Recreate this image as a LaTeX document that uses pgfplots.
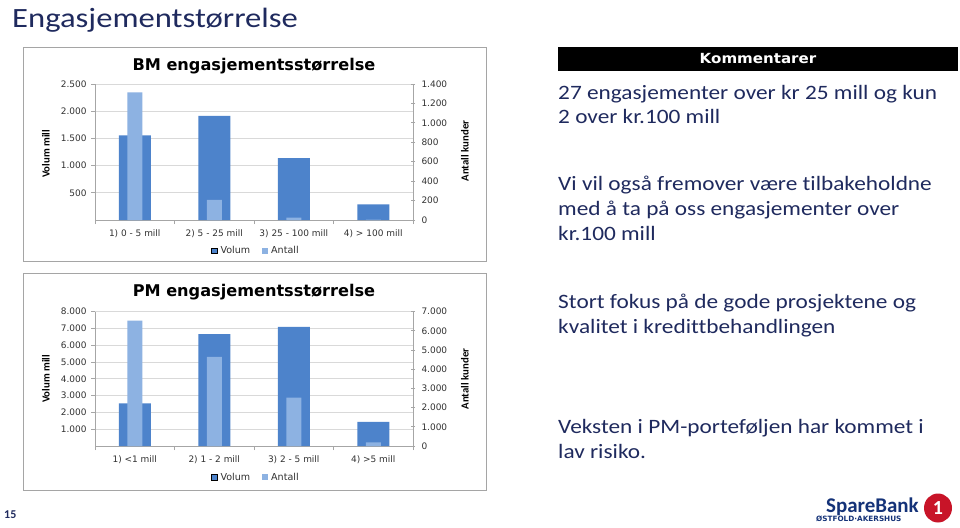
\documentclass[border=0pt]{standalone}
\usepackage{pgfplots}
\pgfplotsset{compat=1.18}
\usepackage{fontspec}
\setmainfont[Ligatures=NoCommon]{Carlito}
\newfontfamily\dejavu{DejaVu Sans}
\definecolor{navy}{RGB}{31,42,94}
\definecolor{volum}{RGB}{77,131,203}
\definecolor{antall}{RGB}{141,178,226}
\definecolor{gridc}{RGB}{217,217,217}
\definecolor{axisc}{RGB}{166,166,166}
\definecolor{tickc}{RGB}{50,50,50}
\definecolor{boxc}{RGB}{165,165,165}
\definecolor{logored}{RGB}{200,20,40}
\definecolor{logonavy}{RGB}{20,50,120}
\pgfplotsset{
  chartbase/.style={
    scale only axis, width=318bp, anchor=south west,
    xmin=-0.5, xmax=3.5, ymin=0,
    ticklabel style={font=\dejavu\fontsize{9}{10}\selectfont, text=tickc},
    /pgf/number format/1000 sep={.},
    /pgf/number format/assume math mode=true,
    axis line style={axisc, line width=0.8bp},
    tick style={axisc, line width=0.8bp},
    ybar, bar shift=0pt,
  },
  leftaxis/.style={
    chartbase,
    axis x line*=bottom, axis y line*=left,
    xtick={0,1,2,3},
    major x tick style={draw=none},
    minor xtick={-0.5,0.5,1.5,2.5,3.5},
    minor tick length=4bp,
    major tick length=4bp,
    tick align=outside,
    ymajorgrids, grid style={gridc, line width=0.8bp},
    bar width=32bp,
    xticklabel style={yshift=-2bp},
    yticklabel style={xshift=-1bp},
  },
  rightaxis/.style={
    chartbase,
    axis x line=none, axis y line*=right,
    tick align=center, major tick length=4bp,
    yticklabel style={xshift=3bp},
    bar width=15bp,
    legend columns=2,
    legend image code/.code={\fill[##1] (0bp,-2.8bp) rectangle (5.5bp,2.8bp);},
    legend style={draw=none, fill=none, anchor=center,
      font=\dejavu\fontsize{9.6}{10}\selectfont, text=tickc,
      /tikz/every odd column/.append style={column sep=1.5bp},
      /tikz/every even column/.append style={column sep=10bp}},
  },
}
\begin{document}
\begin{tikzpicture}
\useasboundingbox (0,0) rectangle (960bp,-528bp);
\fill[white] (0,0) rectangle (960bp,-528bp);
% slide title
\node[anchor=base west, inner sep=0, text=navy, xscale=1.17, font=\fontsize{28}{30}\selectfont] at (12bp,-27bp) {Engasjementstørrelse};
% chart boxes
\draw[boxc, line width=1bp, fill=white] (23bp,-47bp) rectangle (486bp,-261bp);
\draw[boxc, line width=1bp, fill=white] (23bp,-273bp) rectangle (486bp,-490bp);
% BM chart
\begin{axis}[leftaxis, at={(95bp,-220bp)}, height=136bp, ymax=2500,
  ytick={500,1000,1500,2000,2500},
  xticklabels={1) 0 - 5 mill, 2) 5 - 25 mill, 3) 25 - 100 mill, 4) > 100 mill}]
\addplot[fill=volum, draw=none] coordinates {(0,1555) (1,1915) (2,1137) (3,289)};
\end{axis}
\begin{axis}[rightaxis, at={(95bp,-220bp)}, height=136bp, ymax=1400,
  ytick={0,200,400,600,800,1000,1200,1400},
  legend style={at={(0.506,-0.226)}}]
\addlegendimage{fill=volum}
\addlegendentry{Volum}
\addplot[fill=antall, draw=none] coordinates {(0,1313) (1,206) (2,24) (3,4)};
\addlegendentry{Antall}
\end{axis}
% PM chart
\begin{axis}[leftaxis, at={(95bp,-446bp)}, height=134.3bp, ymax=8000,
  ytick={1000,2000,3000,4000,5000,6000,7000,8000},
  xticklabels={1) <1 mill, 2) 1 - 2 mill, 3) 2 - 5 mill, 4) >5 mill}]
\addplot[fill=volum, draw=none] coordinates {(0,2545) (1,6670) (2,7090) (3,1430)};
\end{axis}
\begin{axis}[rightaxis, at={(95bp,-446bp)}, height=134.3bp, ymax=7000,
  ytick={0,1000,2000,3000,4000,5000,6000,7000},
  legend style={at={(0.506,-0.233)}}]
\addlegendimage{fill=volum}
\addlegendentry{Volum}
\addplot[fill=antall, draw=none] coordinates {(0,6530) (1,4640) (2,2520) (3,195)};
\addlegendentry{Antall}
\end{axis}
% chart titles
\node[anchor=base, inner sep=0, font=\dejavu\bfseries\fontsize{16.2}{18}\selectfont] at (254bp,-70bp) {BM engasjementsstørrelse};
\node[anchor=base, inner sep=0, font=\dejavu\bfseries\fontsize{16.2}{18}\selectfont] at (254bp,-296bp) {PM engasjementsstørrelse};
% axis titles
\node[rotate=90, inner sep=0, font=\bfseries\fontsize{10.8}{11}\selectfont] at (46bp,-154bp) {Volum mill};
\node[rotate=90, inner sep=0, font=\bfseries\fontsize{10.8}{11}\selectfont] at (465bp,-151bp) {Antall kunder};
\node[rotate=90, inner sep=0, font=\bfseries\fontsize{10.8}{11}\selectfont] at (46bp,-379bp) {Volum mill};
\node[rotate=90, inner sep=0, font=\bfseries\fontsize{10.8}{11}\selectfont] at (465bp,-379bp) {Antall kunder};
% comments
\fill[black] (558bp,-47bp) rectangle (958bp,-71bp);
\node[text=white, inner sep=0, xscale=1.08, font=\dejavu\bfseries\fontsize{14}{15}\selectfont] at (758bp,-59bp) {Kommentarer};
\begin{scope}[every node/.style={anchor=base west, inner sep=0, text=navy, xscale=1.14, font=\fontsize{20.5}{24}\selectfont}]
\node at (558bp,-99bp) {27 engasjementer over kr 25 mill og kun};
\node at (558bp,-123.5bp) {2 over kr.100 mill};
\node at (558bp,-190bp) {Vi vil også fremover være tilbakeholdne};
\node at (558bp,-215bp) {med å ta på oss engasjementer over};
\node at (558bp,-240bp) {kr.100 mill};
\node at (558bp,-308bp) {Stort fokus på de gode prosjektene og};
\node at (558bp,-333bp) {kvalitet i kredittbehandlingen};
\node at (558bp,-433bp) {Veksten i PM-porteføljen har kommet i};
\node at (558bp,-458bp) {lav risiko.};
\end{scope}
% page number
\node[anchor=base west, inner sep=0, text=navy, font=\bfseries\fontsize{12}{13}\selectfont] at (4bp,-518.5bp) {15};
% logo
\node[anchor=base west, inner sep=0, text=logonavy, font=\bfseries\fontsize{21}{22}\selectfont] at (826bp,-512.5bp) {SpareBank};
\node[anchor=base west, inner sep=0, text=logonavy, font=\dejavu\bfseries\fontsize{7.3}{8}\selectfont] at (816bp,-521.5bp) {ØSTFOLD·AKERSHUS};
\fill[logored] (938bp,-508bp) ellipse [x radius=14bp, y radius=14.5bp];
\node[text=white, inner sep=0, font=\bfseries\fontsize{20}{22}\selectfont] at (938bp,-508bp) {1};
\end{tikzpicture}
\end{document}
